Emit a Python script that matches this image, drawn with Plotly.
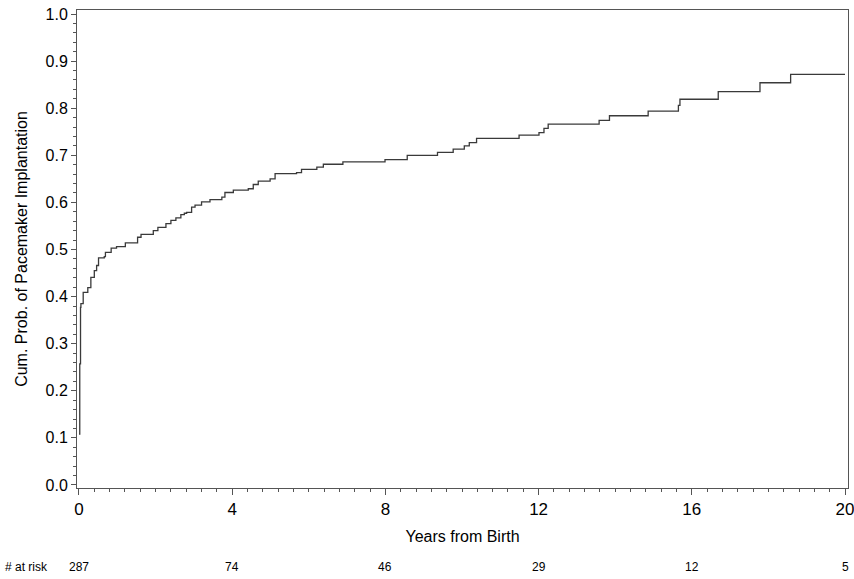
import plotly.graph_objects as go

# Step curve: event times (years) and cumulative probability after each step
times = [0.00, 0.02, 0.04, 0.05, 0.11, 0.23, 0.31, 0.40, 0.46, 0.51, 0.66, 0.69,
         0.84, 0.98, 1.21, 1.53, 1.62, 1.94, 2.06, 2.27, 2.40, 2.53, 2.66, 2.75,
         2.81, 2.94, 3.03, 3.20, 3.42, 3.73, 3.81, 4.03, 4.42, 4.55, 4.68, 4.99,
         5.12, 5.68, 5.81, 6.21, 6.38, 6.89, 7.99, 8.57, 9.36, 9.77, 10.06, 10.19,
         10.38, 11.49, 12.01, 12.14, 12.25, 13.58, 13.85, 14.86, 15.65, 15.69,
         16.69, 17.78, 18.58, 20.00]
cum_prob = [0.108, 0.257, 0.377, 0.385, 0.409, 0.419, 0.441, 0.455, 0.466, 0.482, 0.485, 0.494,
            0.503, 0.506, 0.514, 0.526, 0.532, 0.540, 0.547, 0.555, 0.562, 0.567, 0.574, 0.577,
            0.579, 0.590, 0.594, 0.601, 0.606, 0.611, 0.621, 0.626, 0.629, 0.638, 0.645, 0.650,
            0.661, 0.663, 0.670, 0.675, 0.681, 0.686, 0.691, 0.700, 0.706, 0.713, 0.720, 0.727,
            0.736, 0.743, 0.748, 0.757, 0.766, 0.774, 0.784, 0.794, 0.806, 0.819,
            0.835, 0.854, 0.872, 0.872]

# Number at risk row
risk_times = [0, 4, 8, 12, 16, 20]
risk_counts = [287, 74, 46, 29, 12, 5]

x_ticks = [0, 4, 8, 12, 16, 20]
y_ticks = [0.0, 0.1, 0.2, 0.3, 0.4, 0.5, 0.6, 0.7, 0.8, 0.9, 1.0]

FONT = "Liberation Sans, Arial, sans-serif"
NARROW = "Liberation Sans Narrow, Arial Narrow, Liberation Sans, Arial, sans-serif"

fig = go.Figure()
fig.add_trace(go.Scatter(
    x=times, y=cum_prob, mode="lines", line_shape="hv",
    line=dict(color="#3a3a3a", width=1.3), showlegend=False, hoverinfo="x+y"))

for t, n in zip(risk_times, risk_counts):
    fig.add_annotation(x=t, y=-0.165, xref="x", yref="paper", text=str(n),
                       showarrow=False, xanchor="center", yanchor="middle",
                       font=dict(family=NARROW, size=12, color="#000"))
fig.add_annotation(x=0.0, y=-0.165, xref="x domain", yref="paper", text="# at risk",
                   showarrow=False, xanchor="left", yanchor="middle", xshift=-74,
                   font=dict(family=NARROW, size=12, color="#000"))

fig.update_layout(
    width=854, height=579,
    margin=dict(l=77, r=6, t=10, b=91, autoexpand=False),
    paper_bgcolor="white", plot_bgcolor="white",
    font=dict(family=FONT, color="#000"),
    xaxis=dict(range=[-0.052, 20.078], tickvals=x_ticks, ticks="outside", ticklen=6,
               tickcolor="#555", tickfont=dict(family=NARROW, size=17),
               showline=True, linecolor="#555", linewidth=1, mirror=True,
               showgrid=False, zeroline=False, automargin=False,
               ticklabeloverflow="allow",
               minor=dict(dtick=0.4, ticks="outside", ticklen=3, tickcolor="#555", showgrid=False),
               title=dict(text="Years from Birth", font=dict(family=FONT, size=16), standoff=12)),
    yaxis=dict(range=[-0.0064, 1.0085], tickvals=y_ticks, tickformat=".1f", ticks="outside",
               ticklen=5, tickcolor="#555", tickfont=dict(family=FONT, size=16),
               showline=True, linecolor="#555", linewidth=1, mirror=True,
               showgrid=False, zeroline=False, automargin=False,
               minor=dict(dtick=0.02, ticks="outside", ticklen=3, tickcolor="#555", showgrid=False),
               title=dict(text="Cum. Prob. of Pacemaker Implantation",
                          font=dict(family=FONT, size=16), standoff=13)),
)

fig.write_html("out.html", config={"displayModeBar": False},
               post_script="document.body.style.margin='0';document.body.style.overflow='hidden';")
